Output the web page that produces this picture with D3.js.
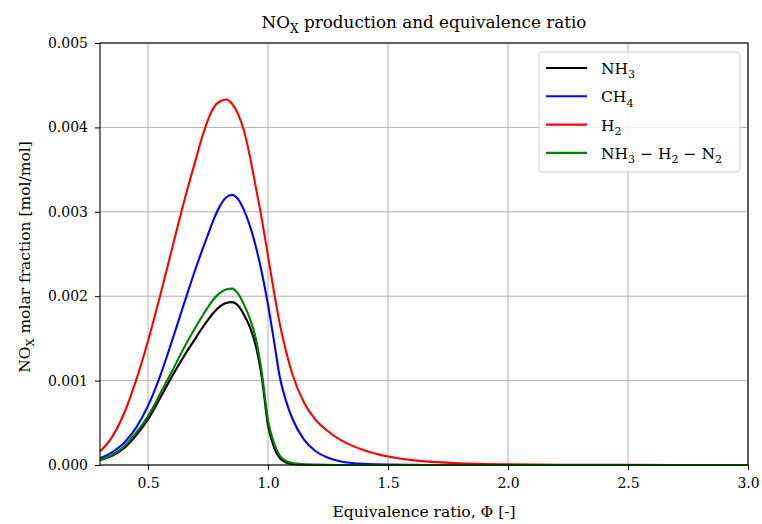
<!DOCTYPE html>
<html>
<head>
<meta charset="utf-8">
<script src="https://cdn.jsdelivr.net/npm/d3@7"></script>
<style>
  body { margin: 0; background: #fff; }
  text { font-family: "DejaVu Serif", "Liberation Serif", serif; fill: #000; }
</style>
</head>
<body>
<div id="chart"></div>
<script>
// equivalence ratio samples
const phi = [0.3, 0.35, 0.4, 0.45, 0.5, 0.55, 0.6, 0.65, 0.7, 0.725, 0.75, 0.775, 0.8, 0.825, 0.85,
  0.875, 0.9, 0.925, 0.95, 0.975, 1.0, 1.025, 1.05, 1.075, 1.1, 1.15, 1.2, 1.25, 1.3, 1.35, 1.4,
  1.5, 1.6, 1.7, 1.8, 1.9, 2.0, 2.25, 2.5, 2.75, 3.0];

// NOx molar fraction, in 1e-3 mol/mol
const nh3 = [0.06, 0.11, 0.20, 0.35, 0.54, 0.79, 1.05, 1.29, 1.51, 1.62, 1.72, 1.81, 1.88, 1.92, 1.93,
  1.89, 1.78, 1.63, 1.40, 1.02, 0.47, 0.21, 0.08, 0.03, 0.012, 0.003, 0.001, 0, 0, 0, 0,
  0, 0, 0, 0, 0, 0, 0, 0, 0, 0];
const ch4 = [0.08, 0.15, 0.26, 0.44, 0.70, 1.05, 1.47, 1.91, 2.34, 2.54, 2.73, 2.92, 3.07, 3.17, 3.20,
  3.15, 3.02, 2.83, 2.58, 2.27, 1.90, 1.47, 1.03, 0.76, 0.56, 0.30, 0.16, 0.085, 0.045, 0.024, 0.013,
  0.004, 0.0015, 0.0005, 0.0002, 0, 0, 0, 0, 0, 0];
const h2 = [0.16, 0.33, 0.61, 1.00, 1.47, 2.00, 2.56, 3.12, 3.63, 3.88, 4.09, 4.24, 4.31, 4.33, 4.28,
  4.16, 3.96, 3.65, 3.28, 2.90, 2.48, 2.05, 1.66, 1.35, 1.09, 0.74, 0.53, 0.40, 0.30, 0.23, 0.175,
  0.10, 0.058, 0.034, 0.02, 0.012, 0.008, 0.003, 0.001, 0.0005, 0.0002];
const blend = [0.06, 0.12, 0.22, 0.38, 0.58, 0.84, 1.11, 1.39, 1.64, 1.76, 1.87, 1.97, 2.04, 2.08, 2.09,
  2.03, 1.90, 1.73, 1.49, 1.08, 0.53, 0.26, 0.11, 0.05, 0.025, 0.008, 0.003, 0.001, 0.0005, 0, 0,
  0, 0, 0, 0, 0, 0, 0, 0, 0, 0];

const xTicks = [0.5, 1.0, 1.5, 2.0, 2.5, 3.0];
const yTicks = [0, 0.001, 0.002, 0.003, 0.004, 0.005];

// label pieces: [text, subscript?]
const series = [
  { vals: nh3, color: "#000000", label: [["NH", 0], ["3", 1]] },
  { vals: ch4, color: "#0000ff", label: [["CH", 0], ["4", 1]] },
  { vals: h2, color: "#ff0000", label: [["H", 0], ["2", 1]] },
  { vals: blend, color: "#008000", label: [["NH", 0], ["3", 1], [" \u2212 H", 0], ["2", 1], [" \u2212 N", 0], ["2", 1]] }
];

const width = 762, height = 524;
const margin = { left: 100, right: 14, top: 43, bottom: 59 };

const svg = d3.select("#chart").append("svg")
  .attr("width", width)
  .attr("height", height);

const x = d3.scaleLinear().domain([0.3, 3.0]).range([margin.left, width - margin.right]);
const y = d3.scaleLinear().domain([0, 0.005]).range([height - margin.bottom, margin.top]);

// text with subscripts, shifting the baseline back on the next piece
function richText(sel, parts, size) {
  let shift = 0;
  parts.forEach(([t, sub]) => {
    const target = sub ? size * 0.28 : 0;
    sel.append("tspan")
      .attr("font-size", sub ? size * 0.72 : size)
      .attr("dy", target - shift)
      .text(t);
    shift = target;
  });
}

// grid
svg.append("g").selectAll("line").data(xTicks).join("line")
  .attr("x1", d => x(d)).attr("x2", d => x(d))
  .attr("y1", y(0)).attr("y2", y(0.005))
  .attr("stroke", "#b0b0b0").attr("stroke-width", 1);
svg.append("g").selectAll("line").data(yTicks).join("line")
  .attr("x1", x(0.3)).attr("x2", x(3.0))
  .attr("y1", d => y(d)).attr("y2", d => y(d))
  .attr("stroke", "#b0b0b0").attr("stroke-width", 1);

// curves
const line = d3.line()
  .x((d, i) => x(phi[i]))
  .y(d => y(d * 1e-3))
  .curve(d3.curveMonotoneX);

svg.append("g").selectAll("path").data(series).join("path")
  .attr("d", s => line(s.vals))
  .attr("fill", "none")
  .attr("stroke", s => s.color)
  .attr("stroke-width", 2.1)
  .attr("stroke-linejoin", "round");

// axes
const xAxis = d3.axisBottom(x).tickValues(xTicks).tickFormat(d3.format(".1f")).tickSize(5).tickPadding(8);
const yAxis = d3.axisLeft(y).tickValues(yTicks).tickFormat(d3.format(".3f")).tickSize(5).tickPadding(7);

svg.append("g")
  .attr("transform", "translate(0," + y(0) + ")")
  .call(xAxis)
  .call(g => g.select(".domain").remove());
svg.append("g")
  .attr("transform", "translate(" + x(0.3) + ",0)")
  .call(yAxis)
  .call(g => g.select(".domain").remove());

svg.selectAll(".tick text")
  .attr("font-family", "DejaVu Serif, serif")
  .attr("font-size", 14);
svg.selectAll(".tick line").attr("stroke", "#000").attr("stroke-width", 1);

// frame
svg.append("rect")
  .attr("x", x(0.3)).attr("y", y(0.005))
  .attr("width", x(3.0) - x(0.3)).attr("height", y(0) - y(0.005))
  .attr("fill", "none").attr("stroke", "#000").attr("stroke-width", 1.1);

// title and labels
const title = svg.append("text")
  .attr("x", (x(0.3) + x(3.0)) / 2).attr("y", 28)
  .attr("text-anchor", "middle");
richText(title, [["NO", 0], ["X", 1], [" production and equivalence ratio", 0]], 16.8);

svg.append("text")
  .attr("x", (x(0.3) + x(3.0)) / 2).attr("y", 517)
  .attr("text-anchor", "middle")
  .attr("font-size", 15.5)
  .text("Equivalence ratio, \u03a6 [-]");

const ylab = svg.append("text")
  .attr("transform", "translate(30," + (y(0.0025) + 3) + ") rotate(-90)")
  .attr("text-anchor", "middle");
richText(ylab, [["NO", 0], ["X", 1], [" molar fraction [mol/mol]", 0]], 15.5);

// legend
const lg = svg.append("g").attr("transform", "translate(539,52)");
lg.append("rect")
  .attr("width", 201).attr("height", 120)
  .attr("rx", 3)
  .attr("fill", "#fff").attr("fill-opacity", 0.8)
  .attr("stroke", "#d0d0d0");

const items = lg.selectAll("g.item").data(series).join("g")
  .attr("class", "item")
  .attr("transform", (d, i) => "translate(0," + (16 + i * 28.3) + ")");
items.append("line")
  .attr("x1", 7).attr("x2", 48)
  .attr("stroke", d => d.color).attr("stroke-width", 2.1);
items.each(function (d) {
  const t = d3.select(this).append("text").attr("x", 62).attr("y", 6);
  richText(t, d.label, 15.5);
});
</script>
</body>
</html>
